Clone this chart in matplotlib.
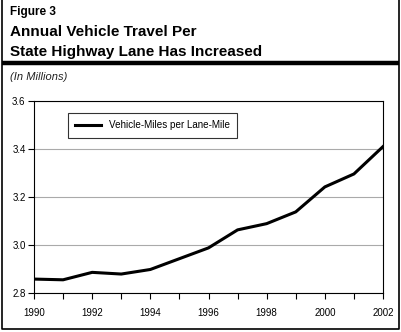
import matplotlib.pyplot as plt
from matplotlib.lines import Line2D

plt.rcParams['font.family'] = ['Liberation Sans', 'DejaVu Sans']

# Vehicle-miles per lane-mile, in millions
years = [1990, 1991, 1992, 1993, 1994, 1995, 1996, 1997, 1998, 1999, 2000, 2001, 2002]
vmt_per_lane = [2.858, 2.855, 2.886, 2.879, 2.898, 2.943, 2.988, 3.063, 3.089, 3.138, 3.242, 3.296, 3.410]
year_ticks = [1990, 1992, 1994, 1996, 1998, 2000, 2002]
value_ticks = [2.8, 3.0, 3.2, 3.4, 3.6]

W, H = 402, 332
fig = plt.figure(figsize=(W / 100, H / 100), dpi=100)

def fx(px):
    return px / W

def fy(py):
    return 1 - py / H

# open-topped frame and heavy rule under the title
fig.add_artist(Line2D([fx(2.5), fx(2.5), fx(399.5), fx(399.5)], [fy(0), fy(328.5), fy(328.5), fy(0)],
                      transform=fig.transFigure, color='black', lw=1.2))
fig.add_artist(Line2D([fx(2.5), fx(399.5)], [fy(63), fy(63)], transform=fig.transFigure,
                      color='black', lw=3.2, solid_capstyle='butt'))

fig.text(fx(10), fy(12), 'Figure 3', fontsize=8.5, fontweight='bold', va='center')
fig.text(fx(10), fy(32), 'Annual Vehicle Travel Per', fontsize=11, fontweight='bold', va='center')
fig.text(fx(10), fy(52), 'State Highway Lane Has Increased', fontsize=11, fontweight='bold', va='center')
fig.text(fx(10), fy(77), '(In Millions)', fontsize=8, style='italic', va='center', color='#222222')

ax = fig.add_axes([fx(34), fy(293), fx(383 - 34), (293 - 101) / H])
ax.plot(years, vmt_per_lane, color='black', lw=2.2, label='Vehicle-Miles per Lane-Mile')
ax.set_xlim(1990, 2002)
ax.set_ylim(2.8, 3.6)
ax.set_xticks(years, minor=True)
ax.set_xticks(year_ticks)
ax.set_xticklabels([str(y) for y in year_ticks])
ax.set_yticks(value_ticks)
ax.set_yticklabels([f'{v:.1f}' for v in value_ticks])
ax.tick_params(axis='both', which='both', direction='out', length=4, width=0.8, labelsize=7)
ax.tick_params(axis='x', which='both', pad=7)
ax.tick_params(axis='y', pad=2)
ax.grid(axis='y', color='#aaaaaa', lw=0.8)
ax.set_axisbelow(True)
for s in ax.spines.values():
    s.set_linewidth(0.8)

leg = ax.legend(loc='upper left', bbox_to_anchor=(0.097, 0.9375), fontsize=7.1, frameon=True,
                fancybox=False, edgecolor='black', handlelength=2.6, borderpad=0.75,
                borderaxespad=0)
leg.get_frame().set_linewidth(0.8)

fig.savefig('out.png', dpi=100)
